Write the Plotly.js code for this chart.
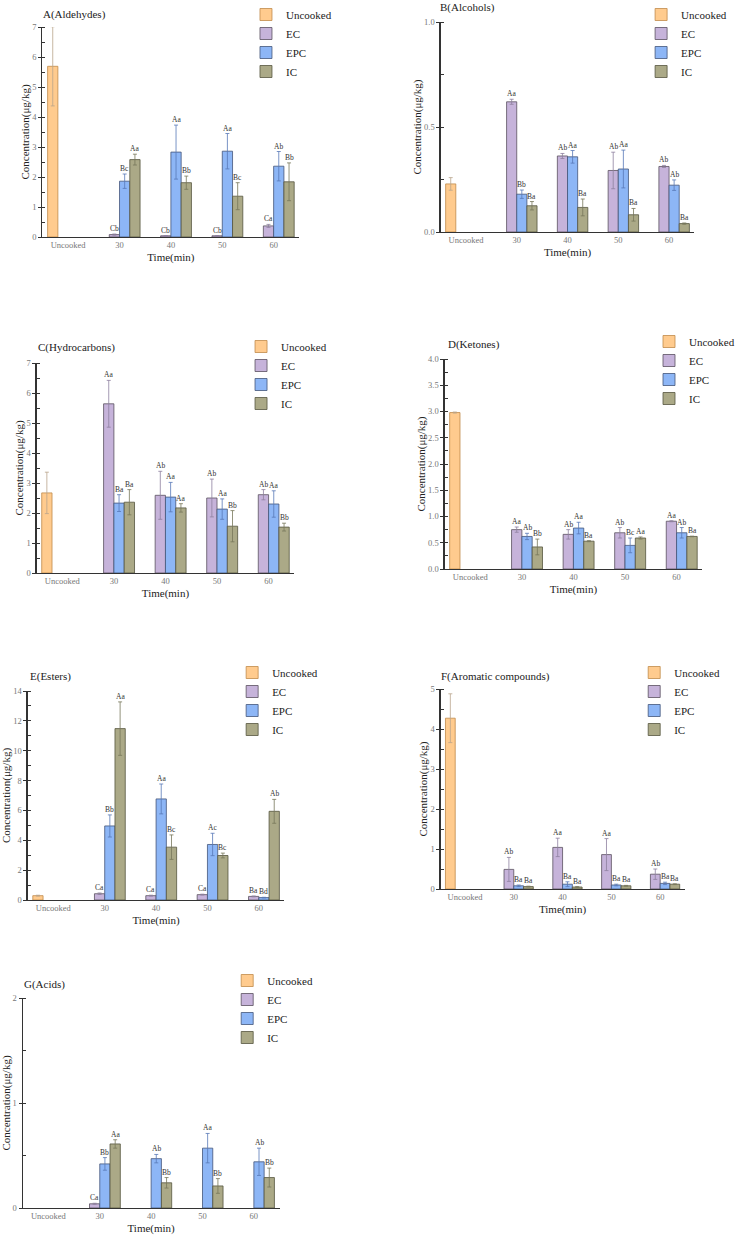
<!DOCTYPE html>
<html>
<head>
<meta charset="utf-8">
<script src="https://cdn.plot.ly/plotly-3.0.1.min.js"></script>
<style>html,body{margin:0;padding:0;background:#fff;}#chart{width:740px;height:1239px;}</style>
</head>
<body>
<div id="chart"></div>
<script>
// ---------- DATA ----------
const categories = ['Uncooked', '30', '40', '50', '60'];
const seriesNames = ['Uncooked', 'EC', 'EPC', 'IC'];

// A (Aldehydes)
const aldUncooked = 5.69, aldUncookedSd = 1.32;
const aldEC = [0.08, 0.04, 0.04, 0.37], aldECSd = [0.02, 0.01, 0.01, 0.05], aldECSig = ['Cb', 'Cb', 'Cb', 'Ca'];
const aldEPC = [1.86, 2.83, 2.86, 2.36], aldEPCSd = [0.24, 0.90, 0.59, 0.49], aldEPCSig = ['Bc', 'Aa', 'Aa', 'Ab'];
const aldIC = [2.58, 1.81, 1.36, 1.84], aldICSd = [0.18, 0.22, 0.45, 0.63], aldICSig = ['Aa', 'Bb', 'Bc', 'Bb'];

// B (Alcohols)
const alcUncooked = 0.229, alcUncookedSd = 0.03;
const alcEC = [0.62, 0.362, 0.293, 0.312], alcECSd = [0.012, 0.012, 0.087, 0.005], alcECSig = ['Aa', 'Ab', 'Ab', 'Ab'];
const alcEPC = [0.18, 0.358, 0.30, 0.223], alcEPCSd = [0.02, 0.03, 0.09, 0.025], alcEPCSig = ['Bb', 'Aa', 'Aa', 'Ab'];
const alcIC = [0.125, 0.117, 0.082, 0.04], alcICSd = [0.02, 0.04, 0.03, 0.003], alcICSig = ['Ba', 'Ba', 'Ba', 'Ba'];

// C (Hydrocarbons)
const hydUncooked = 2.67, hydUncookedSd = 0.69;
const hydEC = [5.64, 2.59, 2.50, 2.61], hydECSd = [0.78, 0.80, 0.63, 0.17], hydECSig = ['Aa', 'Ab', 'Ab', 'Ab'];
const hydEPC = [2.33, 2.53, 2.13, 2.30], hydEPCSd = [0.28, 0.49, 0.34, 0.44], hydEPCSig = ['Ba', 'Aa', 'Aa', 'Aa'];
const hydIC = [2.36, 2.17, 1.56, 1.53], hydICSd = [0.42, 0.14, 0.52, 0.13], hydICSig = ['Ba', 'Aa', 'Bb', 'Bb'];

// D (Ketones)
const ketUncooked = 2.98, ketUncookedSd = 0.01;
const ketEC = [0.75, 0.66, 0.69, 0.91], ketECSd = [0.05, 0.09, 0.10, 0.01], ketECSig = ['Aa', 'Ab', 'Ab', 'Aa'];
const ketEPC = [0.62, 0.78, 0.45, 0.69], ketEPCSd = [0.06, 0.11, 0.14, 0.10], ketEPCSig = ['Ab', 'Aa', 'Bc', 'Ab'];
const ketIC = [0.42, 0.53, 0.59, 0.62], ketICSd = [0.15, 0.01, 0.02, 0.005], ketICSig = ['Bb', 'Ba', 'Aa', 'Ba'];

// E (Esters)
const estUncooked = 0.29, estUncookedSd = 0.03;
const estEC = [0.42, 0.29, 0.36, 0.24], estECSd = [0.05, 0.03, 0.03, 0.03], estECSig = ['Ca', 'Ca', 'Ca', 'Ba'];
const estEPC = [4.96, 6.77, 3.72, 0.16], estEPCSd = [0.74, 1.00, 0.75, 0.02], estEPCSig = ['Bb', 'Aa', 'Ac', 'Bd'];
const estIC = [11.48, 3.54, 2.98, 5.94], estICSd = [1.79, 0.82, 0.16, 0.80], estICSig = ['Aa', 'Bc', 'Bc', 'Ab'];

// F (Aromatic compounds)
const aroUncooked = 4.27, aroUncookedSd = 0.61;
const aroEC = [0.49, 1.04, 0.86, 0.37], aroECSd = [0.30, 0.23, 0.40, 0.13], aroECSig = ['Ab', 'Aa', 'Aa', 'Ab'];
const aroEPC = [0.08, 0.12, 0.10, 0.14], aroEPCSd = [0.02, 0.06, 0.02, 0.03], aroEPCSig = ['Ba', 'Ba', 'Ba', 'Ba'];
const aroIC = [0.06, 0.05, 0.08, 0.12], aroICSd = [0.01, 0.01, 0.01, 0.01], aroICSig = ['Ba', 'Ba', 'Ba', 'Ba'];

// G (Acids)
const acidUncooked = null, acidUncookedSd = 0;
const acidEC = [0.04, null, null, null], acidECSd = [0.005, 0, 0, 0], acidECSig = ['Ca', '', '', ''];
const acidEPC = [0.42, 0.47, 0.57, 0.44], acidEPCSd = [0.06, 0.04, 0.14, 0.13], acidEPCSig = ['Bb', 'Ab', 'Aa', 'Ab'];
const acidIC = [0.61, 0.24, 0.21, 0.29], acidICSd = [0.04, 0.05, 0.07, 0.09], acidICSig = ['Aa', 'Bb', 'Bb', 'Bb'];

// ---------- STYLE / LAYOUT ----------
const W = 740, H = 1239;
const FONT = 'Liberation Serif, Times New Roman, serif';
const fills = ['#FFCB8E', '#C6B3DA', '#8DB6F6', '#ABA987'];
const outlines = ['#C08A4A', '#5A5060', '#44557A', '#55553F'];
const errColors = ['#B9A58C', '#8E80A0', '#5878B8', '#77775A'];
const barW = 0.2, offsets = [-0.4, -0.2, 0, 0.2];

const panels = [
  {title: 'A(Aldehydes)', u: aldUncooked, uSd: aldUncookedSd, s: [[aldEC, aldECSd, aldECSig], [aldEPC, aldEPCSd, aldEPCSig], [aldIC, aldICSd, aldICSig]],
   box: [43, 303, 27, 237], ymax: 7, dtick: 1, minor: 0.5, fmt: 'd', titlePos: [42, 14], legPos: [249, 0]},
  {title: 'B(Alcohols)', u: alcUncooked, uSd: alcUncookedSd, s: [[alcEC, alcECSd, alcECSig], [alcEPC, alcEPCSd, alcEPCSig], [alcIC, alcICSd, alcICSig]],
   box: [446, 703, 22, 232], ymax: 1, dtick: 0.5, minor: 0.25, fmt: '.1f', titlePos: [443, 8], legPos: [649, 0]},
  {title: 'C(Hydrocarbons)', u: hydUncooked, uSd: hydUncookedSd, s: [[hydEC, hydECSd, hydECSig], [hydEPC, hydEPCSd, hydEPCSig], [hydIC, hydICSd, hydICSig]],
   box: [37, 298, 363, 573], ymax: 7, dtick: 1, minor: 0.5, fmt: 'd', titlePos: [36, 347], legPos: [244, 332]},
  {title: 'D(Ketones)', u: ketUncooked, uSd: ketUncookedSd, s: [[ketEC, ketECSd, ketECSig], [ketEPC, ketEPCSd, ketEPCSig], [ketIC, ketICSd, ketICSig]],
   box: [450, 711, 359, 569], ymax: 4, dtick: 0.5, minor: 0.25, fmt: '.1f', titlePos: [451, 344], legPos: [657, 327]},
  {title: 'E(Esters)', u: estUncooked, uSd: estUncookedSd, s: [[estEC, estECSd, estECSig], [estEPC, estEPCSd, estEPCSig], [estIC, estICSd, estICSig]],
   box: [28, 288, 691, 900], ymax: 14, dtick: 2, minor: 1, fmt: 'd', titlePos: [28, 676], legPos: [235, 658]},
  {title: 'F(Aromatic compounds)', u: aroUncooked, uSd: aroUncookedSd, s: [[aroEC, aroECSd, aroECSig], [aroEPC, aroEPCSd, aroEPCSig], [aroIC, aroICSd, aroICSig]],
   box: [446, 693, 689, 889], ymax: 5, dtick: 1, minor: 0.5, fmt: 'd', titlePos: [444, 676], legPos: [642, 658]},
  {title: 'G(Acids)', u: acidUncooked, uSd: acidUncookedSd, s: [[acidEC, acidECSd, acidECSig], [acidEPC, acidEPCSd, acidEPCSig], [acidIC, acidICSd, acidICSig]],
   box: [23, 283, 998, 1208], ymax: 2, dtick: 1, minor: 0.5, fmt: 'd', titlePos: [22, 984], legPos: [230, 966]}
];

const traces = [];
const layout = {
  width: W, height: H, margin: {l: 0, r: 0, t: 0, b: 0},
  paper_bgcolor: '#ffffff', plot_bgcolor: '#ffffff',
  barmode: 'overlay', font: {family: FONT, color: '#222'},
  annotations: [], showlegend: true
};

panels.forEach((p, k) => {
  const n = k === 0 ? '' : String(k + 1);
  const xa = 'x' + n, ya = 'y' + n, lg = 'legend' + n;
  const [x0, x1, yt, yb] = p.box;
  // series values over the 5 categories
  const vals = [
    [[p.u, null, null, null, null], [p.uSd, 0, 0, 0, 0], ['', '', '', '', '']],
    ...p.s.map(([v, sd, sig]) => [[null, ...v], [0, ...sd], ['', ...sig]])
  ];
  vals.forEach(([v, sd, sig], j) => {
    traces.push({
      type: 'bar', name: seriesNames[j], x: categories, y: v,
      width: barW, offset: offsets[j], xaxis: xa, yaxis: ya, legend: lg,
      marker: {color: fills[j], line: {color: outlines[j], width: 0.8}},
      error_y: {type: 'data', array: sd, visible: true, thickness: 0.8, width: 2, color: errColors[j]},
      hoverinfo: 'y'
    });
    v.forEach((val, i) => {
      if (val === null || !sig[i]) return;
      layout.annotations.push({
        xref: xa, yref: ya, x: i + offsets[j] + barW / 2, y: val + sd[i],
        text: sig[i], showarrow: false, xanchor: 'center', yanchor: 'bottom', yshift: -1,
        font: {family: FONT, size: 7.5, color: '#333'}
      });
    });
  });
  layout['xaxis' + n] = {
    domain: [x0 / W, x1 / W], anchor: ya, type: 'category', categoryorder: 'array', categoryarray: categories,
    range: [-0.5, 4.5], showline: true, linecolor: '#333', linewidth: 1.2, ticks: '', showgrid: false, zeroline: false,
    tickfont: {family: FONT, size: 8.5, color: '#777'}, fixedrange: true,
    title: {text: 'Time(min)', font: {family: FONT, size: 11, color: '#222'}, standoff: 3}
  };
  layout['yaxis' + n] = {
    domain: [1 - yb / H, 1 - yt / H], anchor: xa, range: [0, p.ymax], dtick: p.dtick, tick0: 0,
    tickformat: p.fmt, showline: true, linecolor: '#333', linewidth: 1.2, ticks: 'outside', ticklen: 3,
    tickcolor: '#333', showgrid: false, zeroline: false,
    minor: {dtick: p.minor, ticks: 'inside', ticklen: 3, tickcolor: '#333', showgrid: false},
    tickfont: {family: FONT, size: 8.5, color: '#777'}, fixedrange: true,
    title: {text: 'Concentration(μg/kg)', font: {family: FONT, size: 11, color: '#222'}, standoff: 0}
  };
  layout[lg] = {
    x: p.legPos[0] / W, y: 1 - p.legPos[1] / H, xanchor: 'left', yanchor: 'top',
    bgcolor: 'rgba(0,0,0,0)', tracegroupgap: 0,
    font: {family: FONT, size: 11, color: '#222'}
  };
  layout.annotations.push({
    xref: 'paper', yref: 'paper', x: p.titlePos[0] / W, y: 1 - p.titlePos[1] / H,
    text: p.title, showarrow: false, xanchor: 'left', yanchor: 'middle',
    font: {family: FONT, size: 11, color: '#222'}
  });
});

Plotly.newPlot('chart', traces, layout, {staticPlot: true, displayModeBar: false});
</script>
</body>
</html>
